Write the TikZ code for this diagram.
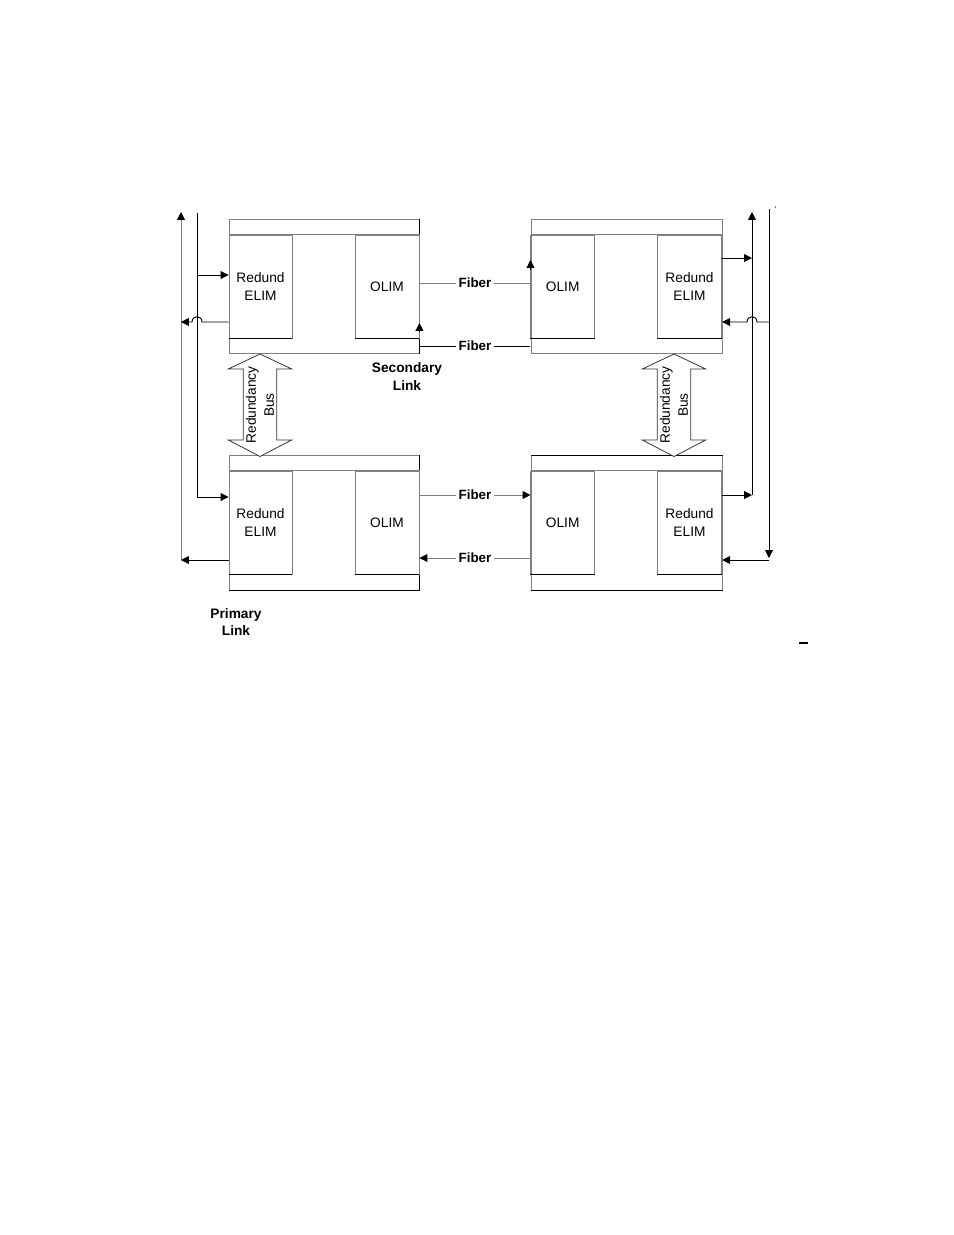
\documentclass[tikz,border=0pt]{standalone}
\usepackage{fontspec}
\setmainfont{Liberation Sans}
\usetikzlibrary{arrows.meta}
\definecolor{boxgray}{gray}{0.5}
\begin{document}
\begin{tikzpicture}[x=0.6415pt,y=-0.6415pt,
  ln/.style={line width=0.6pt},
  gl/.style={ln, draw=boxgray},
  bl/.style={ln, draw=black},
  tip/.style={-{Triangle[length=5pt,width=5pt,color=black]}},
  outer/.style={gl, inner sep=0pt, anchor=north west, minimum width=190*0.6415pt},
  modbox/.style={gl, inner sep=0pt, align=center, font=\fontsize{8.8}{11.5}\selectfont,
     minimum width=63*0.6415pt, minimum height=103*0.6415pt},
  fib/.style={fill=white, font=\bfseries\fontsize{8.6}{10}\selectfont, inner sep=1.5pt},
  lbl/.style={align=center, font=\bfseries\fontsize{8.8}{11}\selectfont},
  busarrow/.style={line width=0.5pt, draw=black!80, fill=white},
  bustext/.style={rotate=90, align=center, font=\fontsize{8.8}{11.5}\selectfont}
]
\useasboundingbox (0,0) rectangle (954,1235);

% outer boxes
\node[outer, minimum height=134*0.6415pt] (TL) at (229,219) {};
\node[outer, minimum height=134*0.6415pt, minimum width=191*0.6415pt] (TR) at (531,219) {};
\node[outer, minimum height=135*0.6415pt] (BL) at (229,455) {};
\node[outer, minimum height=135*0.6415pt, minimum width=191*0.6415pt] (BR) at (531,455) {};
\draw[bl] (TL.north east) -- (TL.south east);
\draw[bl] (BL.north east) -- (BL.south east) -- (BL.south west);
\draw[bl] (BR.north west) -- (BR.north east);
\draw[bl] (BR.south west) -- (BR.south east);

% modules
\node[modbox] (TLr) at (260.5,286.5) {Redund\\ELIM};
\node[modbox, minimum width=64*0.6415pt] (TLo) at (387,286.5) {OLIM};
\node[modbox, minimum width=63.5*0.6415pt] (TRo) at (562.7,286.5) {OLIM};
\node[modbox, minimum width=64.5*0.6415pt] (TRr) at (689.5,286.5) {Redund\\ELIM};
\node[modbox] (BLr) at (260.5,522.5) {Redund\\ELIM};
\node[modbox, minimum width=64*0.6415pt] (BLo) at (387,522.5) {OLIM};
\node[modbox, minimum width=63.5*0.6415pt] (BRo) at (562.7,522.5) {OLIM};
\node[modbox, minimum width=64.5*0.6415pt] (BRr) at (689.5,522.5) {Redund\\ELIM};

% band lines
\draw[gl] (TL.west |- TLr.north) -- (TL.east |- TLr.north);
\draw[gl] (TR.west |- TRr.north) -- (TR.east |- TRr.north);
\draw[gl] (BL.west |- BLr.north) -- (BL.east |- BLr.north);
\draw[gl] (BR.west |- BRr.north) -- (BR.east |- BRr.north);
\foreach \m in {TLr,TLo,TRo,TRr,BLr,BLo,BRo,BRr}
  \draw[bl] (\m.south west) -- (\m.south east);

% left bus lines
\coordinate (L1t) at (181,212);
\coordinate (L1b) at (181,560);
\coordinate (L2t) at (197,213);
\coordinate (L2b) at (197,497);
\draw[gl, tip] (L1b) -- (L1t);
\draw[bl] (L2t) -- (L2b);
\draw[bl, tip] (L2b) -- (BLr.west |- L2b);
\draw[bl, tip] (L2t |- 0,275) -- (TLr.west |- 0,275);
\draw[bl, tip] (BLr.west |- L1b) -- (L1b);
\draw[bl, tip] (TLr.west |- 0,322) -- (202,322) .. controls (202,315) and (192,315) .. (192,322) -- (L1b |- 0,322);

% right bus lines
\coordinate (R1t) at (752,212);
\coordinate (R1b) at (752,495);
\coordinate (R2t) at (769,209);
\coordinate (R2b) at (769,558);
\draw[bl, tip] (R1b) -- (R1t);
\draw[bl, tip] (BRr.east |- R1b) -- (R1b);
\draw[bl, tip] (TRr.east |- 0,258) -- (R1t |- 0,258);
\draw[bl, tip] (R2t) -- (R2b);
\draw[bl, tip] (R2t |- 0,560) -- (BRr.east |- 0,560);
\draw[bl, tip] (R2t |- 0,322) -- (757,322) .. controls (757,315) and (747,315) .. (747,322) -- (TRr.east |- 0,322);

% fiber links
\draw[gl] (TLo.east |- 0,283) -- (TRo.west |- 0,283) node[midway, fib] {Fiber};
\draw[bl] (TLo.east |- 0,346) -- (TRo.west |- 0,346) node[midway, fib] {Fiber};
\draw[bl, tip] (TRo.west |- 0,270) -- (TRo.west |- 0,260);
\draw[bl, tip] (TLo.east |- 0,332) -- (TLo.east |- 0,323);
\draw[gl, tip] (BLo.east |- 0,495) -- (BRo.west |- 0,495) node[midway, fib] {Fiber};
\draw[gl, tip] (BRo.west |- 0,558) -- (BLo.east |- 0,558) node[midway, fib] {Fiber};

% redundancy bus arrows
\draw[busarrow] (260,354) -- (291.7,369) -- (276.7,369) -- (276.7,440) -- (291.7,440)
   -- (260,456.5) -- (228.3,440) -- (243.3,440) -- (243.3,369) -- (228.3,369) -- cycle;
\node[bustext] (busL) at (260,405) {Redundancy\\Bus};
\draw[busarrow] (674,354) -- (705.7,369) -- (690.7,369) -- (690.7,440) -- (705.7,440)
   -- (674,456.5) -- (642.3,440) -- (657.3,440) -- (657.3,369) -- (642.3,369) -- cycle;
\node[bustext] (busR) at (674,405) {Redundancy\\Bus};

% link labels
\node[lbl] (sec) at (407,376.5) {Secondary\\Link};
\node[lbl] (pri) at (236,622) {Primary\\Link};

% small marks
\fill (775.5,207) circle (0.7);
\draw[line width=0.9pt] (799,643) -- (808,643);
\end{tikzpicture}
\end{document}
